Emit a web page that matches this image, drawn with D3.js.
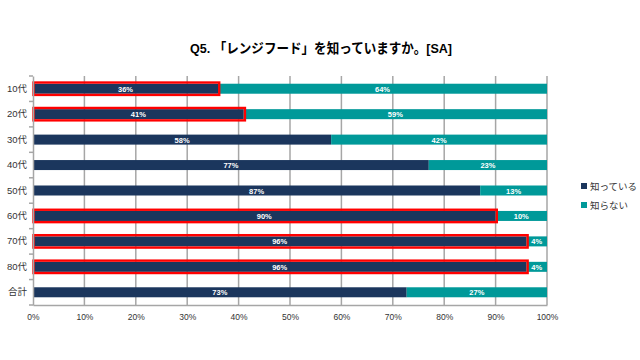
<!DOCTYPE html>
<html><head><meta charset="utf-8">
<script src="https://cdn.jsdelivr.net/npm/d3@7"></script>
<style>body{margin:0;background:#fff}svg{display:block}text{font-family:"Liberation Sans","Noto Sans CJK JP",sans-serif}</style>
</head><body><svg id="c" width="640" height="360"></svg>
<script>
const categories = ["10代","20代","30代","40代","50代","60代","70代","80代","合計"];
const known = [36,41,58,77,87,90,96,96,72.7];
const unknown = [64,59,42,23,13,10,4,4,27.3];
const highlighted = ["10代","20代","60代","70代","80代"];
const seriesNames = ["知っている","知らない"];
const xTicks = [0,10,20,30,40,50,60,70,80,90,100];
const colors = ["#1b365d","#009999"];

const svg = d3.select("#c");
const m = {l:33, r:547, t:76, b:305};
const x = d3.scaleLinear().domain([0,100]).range([m.l,m.r]);
const y = d3.scaleBand().domain(categories).range([m.t,m.b]);
const bh = 10;

svg.append("text").attr("x",321).attr("y",53).attr("text-anchor","middle")
  .attr("font-size",13.5).attr("font-weight","bold").attr("fill","#000")
  .attr("textLength",262).attr("lengthAdjust","spacingAndGlyphs")
  .text("Q5. 「レンジフード」を知っていますか。[SA]");

// gridlines
svg.append("g").selectAll("line").data(xTicks.slice(1)).join("line")
  .attr("x1",d=>x(d)).attr("x2",d=>x(d)).attr("y1",m.t).attr("y2",m.b)
  .attr("stroke","#a6a6a6").attr("stroke-width",1.5);

const data = categories.map((c,i)=>({c, k:known[i], u:unknown[i]}));
const g = svg.append("g");
g.selectAll(".k").data(data).join("rect")
  .attr("x",x(0)).attr("y",d=>y(d.c)+y.bandwidth()/2-bh/2)
  .attr("width",d=>x(d.k)-x(0)).attr("height",bh).attr("fill",colors[0]);
g.selectAll(".u").data(data).join("rect")
  .attr("x",d=>x(d.k)).attr("y",d=>y(d.c)+y.bandwidth()/2-bh/2)
  .attr("width",d=>x(d.k+d.u)-x(d.k)).attr("height",bh).attr("fill",colors[1]);
g.selectAll(".h").data(data.filter(d=>highlighted.includes(d.c))).join("rect")
  .attr("x",x(0)+0.5).attr("y",d=>y(d.c)+y.bandwidth()/2-bh/2-1.2)
  .attr("width",d=>x(d.k)-x(0)+0.7).attr("height",bh+2.4)
  .attr("fill","none").attr("stroke","#ff0000").attr("stroke-width",2.4);

const lbl = svg.append("g").attr("font-size",7.5).attr("font-weight","bold").attr("fill","#fff").attr("text-anchor","middle");
lbl.selectAll(".lk").data(data).join("text")
  .attr("x",d=>x(d.k/2)).attr("y",d=>y(d.c)+y.bandwidth()/2+3)
  .text(d=>Math.round(d.k)+"%");
lbl.selectAll(".lu").data(data).join("text")
  .attr("x",d=>x(d.k+d.u/2)).attr("y",d=>y(d.c)+y.bandwidth()/2+3)
  .text(d=>Math.round(d.u)+"%");

// axes
const xa = svg.append("g").attr("transform",`translate(0,${m.b})`)
  .call(d3.axisBottom(x).tickValues(xTicks).tickFormat(d=>d+"%").tickSize(0).tickPadding(9));
xa.select(".domain").attr("stroke","#a6a6a6").attr("stroke-width",1.5);
xa.selectAll("text").attr("font-size",8.5).attr("fill","#333");

const ya = svg.append("g").attr("transform",`translate(${m.l},0)`)
  .call(d3.axisLeft(y).tickSize(0).tickPadding(6));
ya.select(".domain").attr("stroke","#a6a6a6").attr("stroke-width",1.5);
ya.selectAll("text").attr("font-size",9.5).attr("fill","#333");
svg.append("g").selectAll("line").data(categories.concat(["_end"])).join("line")
  .attr("x1",m.l-4).attr("x2",m.l)
  .attr("y1",(d,i)=>m.t+i*y.step()).attr("y2",(d,i)=>m.t+i*y.step())
  .attr("stroke","#a6a6a6").attr("stroke-width",1.5);

// legend
const lg = svg.append("g");
seriesNames.forEach((s,i)=>{
  lg.append("rect").attr("x",581).attr("y",183+i*19).attr("width",6).attr("height",6).attr("fill",colors[i]);
  lg.append("text").attr("x",590).attr("y",189.5+i*19).attr("font-size",9.5).attr("fill","#333").text(s);
});
</script></body></html>
